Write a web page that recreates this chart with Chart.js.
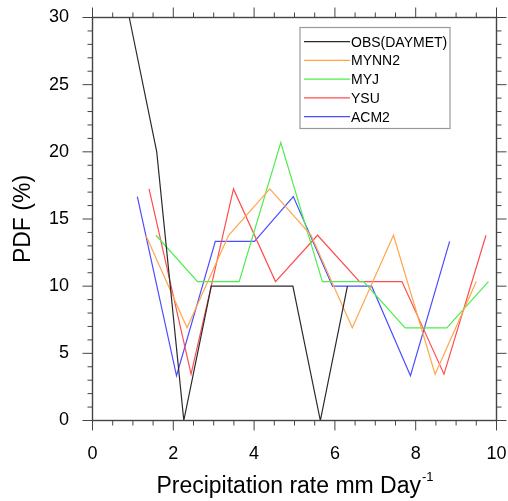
<!DOCTYPE html>
<html>
<head>
<meta charset="utf-8">
<script src="https://cdn.jsdelivr.net/npm/chart.js@4/dist/chart.umd.min.js"></script>
<style>
  html, body { margin: 0; padding: 0; background: #ffffff; }
  #wrap { width: 508px; height: 501px; }
</style>
</head>
<body>
<div id="wrap"><canvas id="pdfChart"></canvas></div>
<script>
// PDF of precipitation rate, each run binned on its own centres
const seriesNames = ['OBS(DAYMET)', 'MYNN2', 'MYJ', 'YSU', 'ACM2'];
const seriesColors = ['#2a2a2a', '#ffa64d', '#4ded4d', '#ff4d4d', '#4d4dff'];

const obsX = [0.91, 1.59, 2.26, 2.94, 3.61, 4.29, 4.96, 5.64, 6.31];
const obsY = [30, 20, 0, 10, 10, 10, 10, 0, 10];

const mynn2X = [1.32, 2.34, 3.37, 4.39, 5.41, 6.43, 7.45, 8.48, 9.50];
const mynn2Y = [13.79, 6.90, 13.79, 17.24, 13.79, 6.90, 13.79, 3.45, 10.34];

const myjX = [1.57, 2.60, 3.63, 4.66, 5.69, 6.71, 7.74, 8.77, 9.80];
const myjY = [13.79, 10.34, 10.34, 20.69, 10.34, 10.34, 6.90, 6.90, 10.34];

const ysuX = [1.40, 2.44, 3.49, 4.53, 5.57, 6.61, 7.66, 8.70, 9.74];
const ysuY = [17.24, 3.45, 17.24, 10.34, 13.79, 10.34, 10.34, 3.45, 13.79];

const acm2X = [1.11, 2.08, 3.04, 4.01, 4.97, 5.94, 6.91, 7.87, 8.84];
const acm2Y = [16.67, 3.33, 13.33, 13.33, 16.67, 10, 10, 3.33, 13.33];

const xTicks = [0, 2, 4, 6, 8, 10];
const yTicks = [0, 5, 10, 15, 20, 25, 30];

const seriesX = [obsX, mynn2X, myjX, ysuX, acm2X];
const seriesY = [obsY, mynn2Y, myjY, ysuY, acm2Y];

const toPoints = (xs, ys) => xs.map((x, i) => ({ x: x, y: ys[i] }));

const FONT = "'Liberation Sans', Arial, Helvetica, sans-serif";

// keep chart.js from growing the plot margins for the edge labels
const noEdgePadding = scale => {
    scale.paddingTop = 0;
    scale.paddingBottom = 0;
    scale.paddingLeft = 0;
    scale.paddingRight = 0;
};

// frame with outward major/minor ticks on all four sides
const framePlugin = {
    id: 'ncarFrame',
    afterDraw(chart) {
        const { ctx, chartArea: a, scales } = chart;
        const xs = scales.x, ys = scales.y;
        ctx.save();
        ctx.strokeStyle = '#444444';
        ctx.lineWidth = 1.4;
        ctx.strokeRect(a.left, a.top, a.right - a.left, a.bottom - a.top);
        ctx.lineWidth = 1;
        ctx.beginPath();
        for (let v = 0; v <= 10.001; v += 0.5) {
            const px = xs.getPixelForValue(v);
            const len = Math.abs(v % 2) < 0.001 ? 10 : 5;
            ctx.moveTo(px, a.bottom); ctx.lineTo(px, a.bottom + len);
            ctx.moveTo(px, a.top); ctx.lineTo(px, a.top - len);
        }
        for (let v = 0; v <= 30; v += 1) {
            const py = ys.getPixelForValue(v);
            const len = v % 5 === 0 ? 10 : 5;
            ctx.moveTo(a.left, py); ctx.lineTo(a.left - len, py);
            ctx.moveTo(a.right, py); ctx.lineTo(a.right + len, py);
        }
        ctx.stroke();
        ctx.restore();
    }
};

// axis titles (with superscript) and the boxed legend
const decorPlugin = {
    id: 'decor',
    afterDraw(chart) {
        const { ctx, chartArea: a } = chart;
        ctx.save();
        ctx.fillStyle = '#000000';

        // x title
        const main = 'Precipitation rate mm Day';
        const sup = '-1';
        ctx.font = '23px ' + FONT;
        const wMain = ctx.measureText(main).width;
        ctx.font = '13px ' + FONT;
        const wSup = ctx.measureText(sup).width;
        const cx = (a.left + a.right) / 2;
        const x0 = cx - (wMain + wSup) / 2;
        ctx.textBaseline = 'alphabetic';
        ctx.textAlign = 'left';
        ctx.font = '23px ' + FONT;
        ctx.fillText(main, x0, 493);
        ctx.font = '13px ' + FONT;
        ctx.fillText(sup, x0 + wMain + 1, 481);

        // y title
        ctx.save();
        ctx.translate(24, (a.top + a.bottom) / 2);
        ctx.rotate(-Math.PI / 2);
        ctx.font = '23px ' + FONT;
        ctx.textAlign = 'center';
        ctx.textBaseline = 'middle';
        ctx.fillText('PDF (%)', 0, 0);
        ctx.restore();

        // legend
        const bx = 300, by = 27.5, bw = 150, bh = 101;
        ctx.fillStyle = '#ffffff';
        ctx.fillRect(bx, by, bw, bh);
        ctx.strokeStyle = '#999999';
        ctx.lineWidth = 1.2;
        ctx.strokeRect(bx, by, bw, bh);
        ctx.font = '14px ' + FONT;
        ctx.textAlign = 'left';
        ctx.textBaseline = 'middle';
        chart.data.datasets.forEach((ds, i) => {
            const ry = 41.7 + i * 18.75;
            ctx.strokeStyle = ds.borderColor;
            ctx.lineWidth = 1.2;
            ctx.beginPath();
            ctx.moveTo(304, ry);
            ctx.lineTo(350, ry);
            ctx.stroke();
            ctx.fillStyle = '#000000';
            ctx.fillText(ds.label, 351, ry + 1);
        });
        ctx.restore();
    }
};

const datasets = seriesNames.map((name, i) => ({
    label: name,
    data: toPoints(seriesX[i], seriesY[i]),
    borderColor: seriesColors[i],
    backgroundColor: seriesColors[i],
    borderWidth: 1.2,
    pointRadius: 0,
    tension: 0,
    fill: false
}));

new Chart(document.getElementById('pdfChart'), {
    type: 'line',
    data: { datasets: datasets },
    options: {
        responsive: true,
        maintainAspectRatio: false,
        animation: false,
        layout: { padding: { top: 17.5, right: 11.5, left: 0, bottom: 0 } },
        plugins: {
            legend: { display: false },
            tooltip: { enabled: false }
        },
        scales: {
            x: {
                type: 'linear',
                min: 0,
                max: 10,
                afterFit: scale => { scale.height = 80.5; noEdgePadding(scale); },
                afterBuildTicks: scale => { scale.ticks = xTicks.map(v => ({ value: v })); },
                grid: { display: false, drawTicks: false },
                border: { display: false },
                ticks: {
                    padding: 23,
                    color: '#000000',
                    font: { size: 18, family: FONT },
                    maxRotation: 0,
                    autoSkip: false
                }
            },
            y: {
                type: 'linear',
                min: 0,
                max: 30,
                afterFit: scale => { scale.width = 92.5; noEdgePadding(scale); },
                afterBuildTicks: scale => { scale.ticks = yTicks.map(v => ({ value: v })); },
                grid: { display: false, drawTicks: false },
                border: { display: false },
                ticks: {
                    padding: 23.5,
                    color: '#000000',
                    font: { size: 18, family: FONT }
                }
            }
        }
    },
    plugins: [framePlugin, decorPlugin]
});
</script>
</body>
</html>
